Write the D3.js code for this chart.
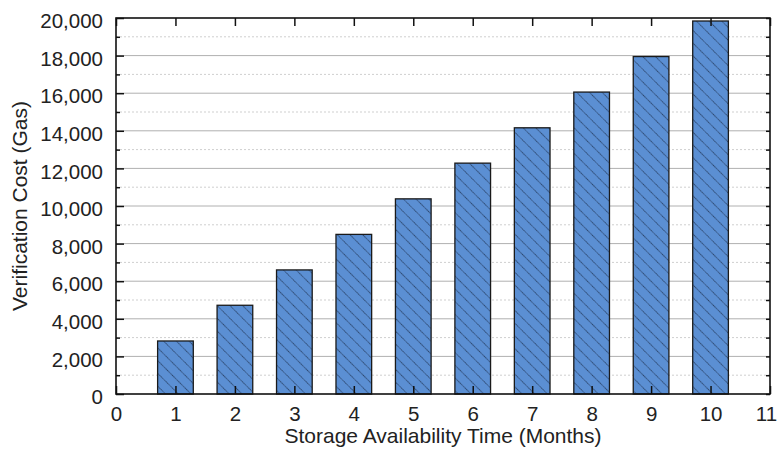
<!DOCTYPE html>
<html><head><meta charset="utf-8">
<script src="https://cdn.jsdelivr.net/npm/d3@7"></script>
<style>body{margin:0;background:#fff;} text{font-family:"Liberation Sans",Arial,sans-serif;fill:#222;}</style>
</head><body>
<svg id="c" width="778" height="452"></svg>
<script>
const months = [1,2,3,4,5,6,7,8,9,10];
const costs = [2820,4720,6600,8490,10380,12280,14160,16060,17950,19840];
const xTicks = [0,1,2,3,4,5,6,7,8,9,10,11];
const yMajor = [0,2000,4000,6000,8000,10000,12000,14000,16000,18000,20000];
const yMinor = [1000,3000,5000,7000,9000,11000,13000,15000,17000,19000];
const xTitle = "Storage Availability Time (Months)";
const yTitle = "Verification Cost (Gas)";

const m = {l:116, r:8, t:18, b:58};
const W = 778, H = 452;
const svg = d3.select("#c");
const x = d3.scaleLinear().domain([0,11]).range([m.l, W-m.r]);
const y = d3.scaleLinear().domain([0,20000]).range([H-m.b, m.t]);

const defs = svg.append("defs");
const pat = defs.append("pattern").attr("id","hatch").attr("patternUnits","userSpaceOnUse")
  .attr("width",9).attr("height",9).attr("patternTransform","rotate(-45)");
pat.append("rect").attr("width",9).attr("height",9).attr("fill","#5b8fd3");
pat.append("line").attr("x1",0).attr("y1",0).attr("x2",0).attr("y2",9)
  .attr("stroke","#14213a").attr("stroke-width",1.3).attr("stroke-dasharray","1.2,0.6");

// grid
svg.append("g").selectAll("line").data(yMinor).join("line")
  .attr("x1",m.l).attr("x2",W-m.r).attr("y1",d=>y(d)).attr("y2",d=>y(d))
  .attr("stroke","#cfcfcf").attr("stroke-width",1).attr("stroke-dasharray","2,2");
svg.append("g").selectAll("line").data(yMajor.slice(1,-1)).join("line")
  .attr("x1",m.l).attr("x2",W-m.r).attr("y1",d=>y(d)).attr("y2",d=>y(d))
  .attr("stroke","#b0b0b0").attr("stroke-width",1);

// bars
const bw = x(0.6)-x(0);
svg.append("g").selectAll("rect").data(months).join("rect")
  .attr("x",(d)=>x(d)-bw/2).attr("width",bw)
  .attr("y",(d,i)=>y(costs[i])).attr("height",(d,i)=>y(0)-y(costs[i]))
  .attr("fill","url(#hatch)").attr("stroke","#1a1a1a").attr("stroke-width",1.3);

// axes
const FS = 20.5;
const axB = d3.axisBottom(x).tickValues(xTicks).tickSize(-8).tickPadding(12.5).tickFormat(d3.format("d"));
const axT = d3.axisTop(x).tickValues(xTicks).tickSize(-8).tickFormat("");
const axL = d3.axisLeft(y).tickValues(yMajor).tickSize(-8).tickPadding(13).tickFormat(d3.format(","));
const axLm = d3.axisLeft(y).tickValues(yMinor).tickSize(-4).tickFormat("");
const axR = d3.axisRight(y).tickValues(yMajor.concat(yMinor)).tickSize(-4).tickFormat("");

function style(g){
  g.selectAll(".domain").remove();
  g.selectAll(".tick line").attr("stroke","#111").attr("stroke-width",1.5);
  g.selectAll(".tick text").attr("font-size",FS).attr("fill","#222")
    .attr("font-family",'"Liberation Sans",Arial,sans-serif');
}
const gB = svg.append("g").attr("transform",`translate(0,${H-m.b})`).call(axB).call(style);
gB.selectAll(".tick text").filter(d=>d===11).attr("dx",-4);
svg.append("g").attr("transform",`translate(0,${m.t})`).call(axT).call(style);
svg.append("g").attr("transform",`translate(${m.l},0)`).call(axL).call(style)
  .selectAll(".tick text").attr("dy","0.47em");
svg.append("g").attr("transform",`translate(${m.l},0)`).call(axLm).call(style);
svg.append("g").attr("transform",`translate(${W-m.r},0)`).call(axR).call(style);

svg.append("rect").attr("x",m.l).attr("y",m.t).attr("width",W-m.r-m.l).attr("height",H-m.b-m.t)
  .attr("fill","none").attr("stroke","#111").attr("stroke-width",1.6);

svg.append("text").attr("x",(m.l+W-m.r)/2).attr("y",443).attr("text-anchor","middle")
  .attr("font-size",21).text(xTitle);
svg.append("text").attr("transform",`translate(27,${(m.t+H-m.b)/2}) rotate(-90)`)
  .attr("text-anchor","middle").attr("font-size",21).text(yTitle);
</script>
</body></html>
